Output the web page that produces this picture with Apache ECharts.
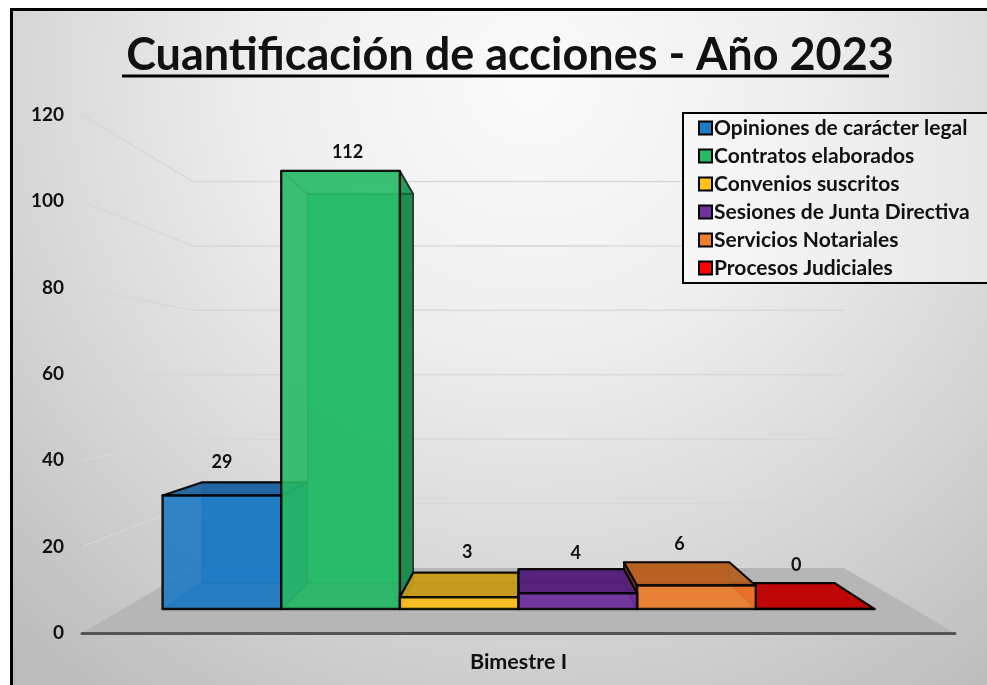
<!DOCTYPE html>
<html><head><meta charset="utf-8">
<style>html,body{margin:0;padding:0;background:#fff}#c{width:987px;height:685px}</style>
<script src="https://cdn.jsdelivr.net/npm/echarts@6/dist/echarts.min.js"></script>
</head><body><div id="c"></div>
<script>
// ---- data ----
const titleText = 'Cuantificación de acciones - Año 2023';
const categories = ['Bimestre I'];
const yTicks = [0, 20, 40, 60, 80, 100, 120];
const seriesNames = ['Opiniones de carácter legal','Contratos elaborados','Convenios suscritos','Sesiones de Junta Directiva','Servicios Notariales','Procesos Judiciales'];
const opiniones = [29];
const contratos = [112];
const convenios = [3];
const sesiones = [4];
const notariales = [6];
const judiciales = [0];
// ---- style ----
const seriesValues = [opiniones, contratos, convenios, sesiones, notariales, judiciales];
const colors = ['#1f7bc4','#27bb68','#ffc21a','#7030a0','#ef7f30','#ff0000'];
const topColors = ['#1f639e','#1c8a4e','#c49a1a','#54217a','#b45f20','#c00000'];
const drawOrder = [1,2,3,6,5,4];
const labelNudge = [0,7,8,-2,-17,-19];
const labelLift = [20,19,20,16,18,18];
const FONT = 'Lato';
// perspective constants: horizon in axis units, depth scales of the 3D scene
const horizon = 59.3, sFront = 0.906, sBack = 0.805, sWall = 0.746, barShare = 0.9;

const chart = echarts.init(document.getElementById('c'));

function sceneProject(api) {
  const o = api.coord([0, 0]);
  const band = api.size([1, 0])[0];
  const vy = api.coord([0, horizon])[1];
  const cx = o[0];
  return {
    band, cx,
    p(xw, v, s) { return [cx + (xw - cx) * s, vy + (api.coord([0, v])[1] - vy) * s]; }
  };
}
function poly(points, fill, opacity, stroke, lw) {
  return {type:'polygon', shape:{points}, style:{fill, opacity: opacity, stroke, lineWidth: lw, lineJoin:'round'}};
}
function barRenderer(idx) {
  return function (params, api) {
    const S = sceneProject(api);
    const v = api.value(1);
    const w = S.band * barShare / seriesNames.length;
    const x0 = S.cx - S.band * barShare / 2 + idx * w, x1 = x0 + w;
    const f = (x, val) => S.p(x, val, sFront), b = (x, val) => S.p(x, val, sBack);
    const base = colors[idx], dark = topColors[idx];
    const inner = 'rgba(0,0,0,0.38)';
    const kids = [
      poly([b(x0,0),b(x1,0),b(x1,v),b(x0,v)], base, 0.9, inner, 1.5),
      poly([f(x0,0),f(x1,0),b(x1,0),b(x0,0)], dark, 0.55, inner, 1.5)
    ];
    if (idx < 3) {
      kids.push(poly([f(x0,0),b(x0,0),b(x0,v),f(x0,v)], dark, 0.22, inner, 1.5));
      kids.push(poly([f(x1,0),b(x1,0),b(x1,v),f(x1,v)], dark, 0.95, '#222', 1.5));
    } else {
      kids.push(poly([f(x0,0),b(x0,0),b(x0,v),f(x0,v)], '#6b3410', 0.98, '#000', 1.5));
    }
    kids.push(poly([f(x0,v),f(x1,v),b(x1,v),b(x0,v)], idx === 1 ? base : dark, idx === 1 ? 0.3 : 0.93, '#000', 2.2));
    kids.push(poly([f(x0,0),f(x1,0),f(x1,v),f(x0,v)], base, 0.88, '#000', 2.4));
    const topBack = Math.min(f(x0,v)[1], b(x0,v)[1]);
    const fc = (f(x0,0)[0] + f(x1,0)[0]) / 2;
    kids.push({type:'text', style:{text:String(v), x: fc + labelNudge[idx], y: topBack - labelLift[idx],
      align:'center', verticalAlign:'middle', fill:'#111', font:'bold 18px ' + FONT}});
    return {type:'group', children:kids};
  };
}
function wallRenderer(params, api) {
  const S = sceneProject(api);
  const v = api.value(0);
  const half = S.band / 2;
  if (v === 0) {
    return {type:'polygon', shape:{points:[S.p(S.cx-half,0,1),S.p(S.cx+half,0,1),S.p(S.cx+half,0,sWall),S.p(S.cx-half,0,sWall)]},
      style:{fill:'#b6b6b6'}};
  }
  return {type:'polyline', shape:{points:[S.p(S.cx-half,v,1),S.p(S.cx-half,v,sWall),S.p(S.cx+half,v,sWall)]},
    style:{fill:'none', stroke:'rgba(214,214,214,0.9)', lineWidth:1.5}};
}
const bars = seriesNames.map((name, i) => ({
  name, type:'custom', coordinateSystem:'cartesian2d', clip:false, z: 2 + drawOrder[i],
  encode:{x:0, y:1},
  itemStyle:{color:colors[i], borderColor:'#000', borderWidth:2},
  renderItem: barRenderer(i),
  data: seriesValues[i].map((val, c) => [c, val])
}));
chart.setOption({
  animation:false,
  title:{text:titleText, left:505, top:28, textAlign:'center',
    textStyle:{fontFamily:FONT, fontWeight:'bold', fontSize:45, color:'#111'}},
  graphic:[
    {type:'rect', z:-5, silent:true, shape:{x:11.5,y:9.5,width:1000,height:700},
     style:{stroke:'#000', lineWidth:3, fill:new echarts.graphic.RadialGradient(0.52,0.1,1.1,[
       {offset:0,color:'#fbfbfb'},{offset:0.35,color:'#eeeeee'},{offset:0.7,color:'#d4d4d4'},{offset:1,color:'#bbbbbb'}])}},
    {type:'rect', z:6, silent:true, shape:{x:122,y:74.5,width:767,height:3}, style:{fill:'#000'}}
  ],
  legend:{orient:'vertical', left:683, top:113, padding:[4,30,4,15], itemWidth:13, itemHeight:13, itemGap:6, icon:'rect',
    data:seriesNames,
    backgroundColor:new echarts.graphic.LinearGradient(0,0,1,0,[{offset:0,color:'#f8f8f8'},{offset:1,color:'#e6e6e6'}]),
    borderColor:'#000', borderWidth:2,
    selectedMode:false, textStyle:{fontFamily:FONT, fontWeight:'bold', fontSize:21, color:'#111', padding:[0,0,0,-3], lineHeight:22}},
  grid:{left:82, right:32, top:115, height:518},
  xAxis:{type:'category', data:categories, boundaryGap:true, z:8,
    axisLine:{lineStyle:{color:'#555', width:3}}, axisTick:{show:false},
    axisLabel:{margin:18, color:'#111', fontFamily:FONT, fontWeight:'bold', fontSize:21.5}},
  yAxis:{type:'value', min:0, max:120, interval:20, axisLine:{show:false}, axisTick:{show:false}, splitLine:{show:false},
    axisLabel:{margin:18, color:'#111', fontFamily:FONT, fontWeight:'bold', fontSize:19}},
  series:[{name:'walls', type:'custom', coordinateSystem:'cartesian2d', clip:false, z:1, silent:true,
    encode:{y:0}, renderItem:wallRenderer, data:yTicks.map(t => [t])}].concat(bars)
});
</script></body></html>
